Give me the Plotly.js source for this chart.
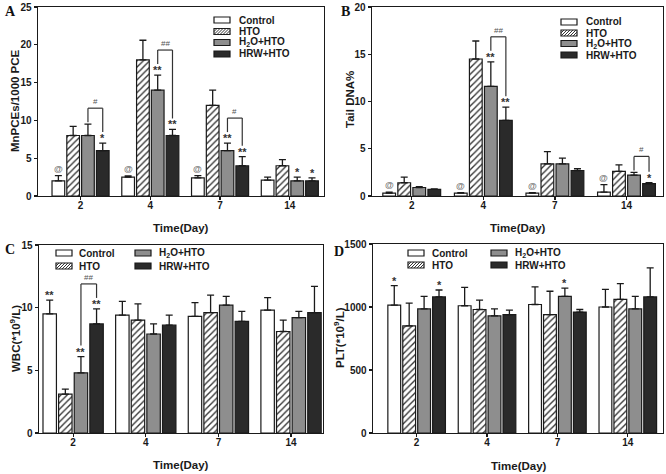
<!DOCTYPE html>
<html><head><meta charset="utf-8">
<script src="https://cdn.plot.ly/plotly-3.0.1.min.js"></script>
<style>html,body{margin:0;padding:0;background:#fff}</style>
</head><body><div id="chart" style="width:666px;height:474px"></div>
<script>
// ---------- data ----------
const days = ['2', '4', '7', '14'];
const seriesNames = ['Control', 'HTO', 'H<sub>2</sub>O+HTO', 'HRW+HTO'];

// Panel A: MnPCEs/1000 PCE
const aControl = [2.0, 2.5, 2.4, 2.1];
const aControlErr = [0.7, 0.15, 0.3, 0.4];
const aHTO = [8.0, 18.0, 12.0, 4.0];
const aHTOErr = [1.2, 2.6, 2.0, 0.8];
const aH2O = [8.0, 14.0, 6.0, 2.0];
const aH2OErr = [1.5, 2.0, 1.0, 0.5];
const aHRW = [6.0, 8.0, 4.0, 2.0];
const aHRWErr = [1.0, 0.8, 1.2, 0.4];
const aMarkControl = ['@', '@', '@', ''];
const aMarkHTO = ['', '', '', ''];
const aMarkH2O = ['', '**', '**', '*'];
const aMarkHRW = ['*', '**', '**', '*'];
const aBracketDays = [0, 1, 2];
const aBracketLabels = ['#', '##', '#'];

// Panel B: Tail DNA%
const bControl = [0.3, 0.3, 0.3, 0.4];
const bControlErr = [0.1, 0.05, 0.05, 0.8];
const bHTO = [1.4, 14.5, 3.4, 2.6];
const bHTOErr = [0.6, 1.9, 1.3, 0.7];
const bH2O = [0.9, 11.6, 3.4, 2.2];
const bH2OErr = [0.1, 2.6, 0.6, 0.3];
const bHRW = [0.7, 8.0, 2.7, 1.3];
const bHRWErr = [0.05, 1.4, 0.2, 0.1];
const bMarkControl = ['@', '@', '@', '@'];
const bMarkHTO = ['', '', '', ''];
const bMarkH2O = ['', '**', '', ''];
const bMarkHRW = ['', '**', '', '*'];
const bBracketDays = [1, 3];
const bBracketLabels = ['##', '#'];

// Panel C: WBC (*10^9/L)
const cControl = [9.5, 9.4, 9.3, 9.8];
const cControlErr = [1.1, 1.1, 1.1, 1.0];
const cHTO = [3.1, 9.0, 9.6, 8.1];
const cHTOErr = [0.4, 1.3, 1.4, 0.9];
const cH2O = [4.8, 7.9, 10.2, 9.2];
const cH2OErr = [1.3, 0.8, 0.7, 0.5];
const cHRW = [8.7, 8.6, 8.9, 9.6];
const cHRWErr = [1.2, 0.8, 0.8, 2.1];
const cMarkControl = ['**', '', '', ''];
const cMarkHTO = ['', '', '', ''];
const cMarkH2O = ['**', '', '', ''];
const cMarkHRW = ['**', '', '', ''];
const cBracketDays = [0];
const cBracketLabels = ['##'];

// Panel D: PLT (*10^9/L)
const dControl = [1015, 1010, 1020, 1000];
const dControlErr = [155, 145, 140, 140];
const dHTO = [850, 980, 940, 1060];
const dHTOErr = [180, 75, 185, 125];
const dH2O = [985, 930, 1085, 985];
const dH2OErr = [100, 55, 65, 100];
const dHRW = [1080, 940, 960, 1080];
const dHRWErr = [55, 35, 20, 230];
const dMarkControl = ['*', '', '', ''];
const dMarkHTO = ['', '', '', ''];
const dMarkH2O = ['', '', '*', ''];
const dMarkHRW = ['*', '', '', ''];
const dBracketDays = [];
const dBracketLabels = [];

// ---------- styling / layout ----------
const W = 666, H = 474;
const FONT = 'Liberation Sans';
const SERIF = 'Liberation Serif';
const fills = ['#ffffff', '#ffffff', '#8e8e8e', '#2a2a2a'];
const edge = '#1a1a1a';
const px2x = p => p / W;
const px2y = p => 1 - p / H;

const panels = [
  {xa: 'x', ya: 'y', vals: [aControl, aHTO, aH2O, aHRW], errs: [aControlErr, aHTOErr, aH2OErr, aHRWErr],
   marks: [aMarkControl, aMarkHTO, aMarkH2O, aMarkHRW], bDays: aBracketDays, bLabels: aBracketLabels,
   pitch: 0.212, w: 0.182, box: [38, 324, 7, 196], xr: [-0.61, 3.49], yr: [0, 25], dt: 5},
  {xa: 'x2', ya: 'y2', vals: [bControl, bHTO, bH2O, bHRW], errs: [bControlErr, bHTOErr, bH2OErr, bHRWErr],
   marks: [bMarkControl, bMarkHTO, bMarkH2O, bMarkHRW], bDays: bBracketDays, bLabels: bBracketLabels,
   pitch: 0.21, w: 0.178, box: [372, 663, 7, 196], xr: [-0.555, 3.51], yr: [0, 20], dt: 5},
  {xa: 'x3', ya: 'y3', vals: [cControl, cHTO, cH2O, cHRW], errs: [cControlErr, cHTOErr, cH2OErr, cHRWErr],
   marks: [cMarkControl, cMarkHTO, cMarkH2O, cMarkHRW], bDays: cBracketDays, bLabels: cBracketLabels,
   pitch: 0.215, w: 0.185, box: [39, 323, 245, 433], xr: [-0.47, 3.44], yr: [0, 15], dt: 5},
  {xa: 'x4', ya: 'y4', vals: [dControl, dHTO, dH2O, dHRW], errs: [dControlErr, dHTOErr, dH2OErr, dHRWErr],
   marks: [dMarkControl, dMarkHTO, dMarkH2O, dMarkHRW], bDays: dBracketDays, bLabels: dBracketLabels,
   pitch: 0.212, w: 0.182, box: [373, 663, 244, 433], xr: [-0.62, 3.5], yr: [0, 1500], dt: 500}
];

const traces = [], shapes = [], annotations = [];
const layout = {
  width: W, height: H, margin: {l: 0, r: 0, t: 0, b: 0},
  paper_bgcolor: '#fff', plot_bgcolor: '#fff', barmode: 'overlay', showlegend: false,
  font: {family: FONT, color: '#1a1a1a'}
};

panels.forEach((p, pi) => {
  const sfx = pi === 0 ? '' : String(pi + 1);
  const [l, r, t, b] = p.box;
  layout['xaxis' + sfx] = {
    domain: [px2x(l), px2x(r)], anchor: p.ya, type: 'category',
    categoryorder: 'array', categoryarray: days, range: p.xr,
    showline: true, mirror: true, linecolor: edge, linewidth: 1.4,
    ticks: 'outside', ticklen: 3, tickwidth: 1.2, tickcolor: edge, ticklabelstandoff: -3,
    showgrid: false, zeroline: false,
    tickfont: {family: FONT, size: 10, weight: 'bold', color: '#1a1a1a'}
  };
  layout['yaxis' + sfx] = {
    domain: [px2y(b), px2y(t)], anchor: p.xa, range: p.yr, dtick: p.dt, tick0: 0,
    showline: true, mirror: true, linecolor: edge, linewidth: 1.4,
    ticks: 'outside', ticklen: 3, tickwidth: 1.2, tickcolor: edge,
    showgrid: false, zeroline: false,
    tickfont: {family: FONT, size: 10, weight: 'bold', color: '#1a1a1a'}
  };
  const u = (p.yr[1] - p.yr[0]) / (b - t);   // data units per pixel
  const centre = (i, k) => i + (k - 1.5) * p.pitch;
  const tops = k => p.vals[k].map((v, i) => v + p.errs[k][i]);

  for (let k = 0; k < 4; k++) {
    const marker = {color: fills[k], line: {color: edge, width: 1.2}};
    if (k === 1) marker.pattern = {shape: '/', size: 4.5, solidity: 0.3, fgcolor: '#333', bgcolor: '#fff', fillmode: 'replace'};
    traces.push({
      type: 'bar', x: days, y: p.vals[k], xaxis: p.xa, yaxis: p.ya, name: seriesNames[k],
      width: p.w, offset: (k - 2) * p.pitch + (p.pitch - p.w) / 2,
      marker: marker, hoverinfo: 'skip',
      error_y: {type: 'data', symmetric: false, array: p.errs[k], arrayminus: p.errs[k].map(() => 0),
                color: edge, thickness: 1.3, width: 3.5}
    });
    const tp = tops(k);
    p.marks[k].forEach((m, i) => {
      if (!m) return;
      annotations.push({
        xref: p.xa, yref: p.ya, x: centre(i, k), y: tp[i], yanchor: 'bottom', xanchor: 'center',
        text: m, showarrow: false, yshift: m === '@' ? 0 : -3,
        font: {family: FONT, size: m === '@' ? 9 : 11, weight: 'bold', color: m === '@' ? '#777777' : '#333333'}
      });
    });
  }
  const topH2O = tops(2), topHRW = tops(3);
  p.bDays.forEach((i, j) => {
    const xl = centre(i, 2), xr = centre(i, 3);
    const yl = topH2O[i] + (p.marks[2][i] ? 11 : 2) * u;
    const yr = topHRW[i] + (p.marks[3][i] ? 11 : 2) * u;
    const yt = Math.max(yl, yr) + 14 * u;
    const ln = {color: '#333', width: 1.2};
    shapes.push({type: 'line', xref: p.xa, yref: p.ya, x0: xl, x1: xl, y0: yl, y1: yt, line: ln});
    shapes.push({type: 'line', xref: p.xa, yref: p.ya, x0: xl, x1: xr, y0: yt, y1: yt, line: ln});
    shapes.push({type: 'line', xref: p.xa, yref: p.ya, x0: xr, x1: xr, y0: yr, y1: yt, line: ln});
    annotations.push({xref: p.xa, yref: p.ya, x: (xl + xr) / 2, y: yt, yanchor: 'bottom', showarrow: false,
      text: p.bLabels[j], yshift: 0, font: {family: FONT, size: 8, color: '#555555'}});
  });
});

// ---------- titles ----------
function txt(x, y, text, size, opts) {
  annotations.push(Object.assign({xref: 'paper', yref: 'paper', x: px2x(x), y: px2y(y), text: text,
    showarrow: false, xanchor: 'center', yanchor: 'middle',
    font: {family: FONT, size: size, weight: 'bold', color: '#1a1a1a'}}, opts || {}));
}
txt(15, 101, 'MnPCEs/1000 PCE', 11.5, {textangle: -90});
txt(350, 100, 'Tail DNA%', 11.5, {textangle: -90});
txt(15, 339, 'WBC(*10<sup>9</sup>/L)', 11.5, {textangle: -90});
txt(339, 338, 'PLT(*10<sup>9</sup>/L)', 11.5, {textangle: -90});
txt(181, 228, 'Time(Day)', 11.5);
txt(518, 228, 'Time(Day)', 11.5);
txt(181, 465, 'Time(Day)', 11.5);
txt(519, 466, 'Time(Day)', 11.5);
const letterFont = {family: SERIF, size: 14, weight: 'bold', color: '#111111'};
txt(10, 11, 'A', 14, {font: letterFont});
txt(346, 11, 'B', 14, {font: letterFont});
txt(10, 249, 'C', 14, {font: letterFont});
txt(339, 251, 'D', 14, {font: letterFont});

// ---------- legends (drawn manually) ----------
function legendEntry(x0, yc, textX, k) {
  const sw = 16, sh = 6;
  const y0 = yc - sh / 2, y1 = yc + sh / 2;
  shapes.push({type: 'rect', xref: 'paper', yref: 'paper', layer: 'above',
    x0: px2x(x0), x1: px2x(x0 + sw), y0: px2y(y1), y1: px2y(y0),
    fillcolor: fills[k], line: {color: edge, width: 1.2}});
  if (k === 1) {
    for (let t = -sh; t < sw; t += 3) {
      const smin = Math.max(0, -t), smax = Math.min(sh, sw - t);
      if (smax - smin > 0.5) shapes.push({type: 'line', xref: 'paper', yref: 'paper', layer: 'above',
        x0: px2x(x0 + t + smin), y0: px2y(y1 - smin), x1: px2x(x0 + t + smax), y1: px2y(y1 - smax),
        line: {color: '#333', width: 1}});
    }
  }
  txt(textX, yc, seriesNames[k], 10, {xanchor: 'left'});
}
[20, 31.5, 42.5, 54].forEach((y, k) => legendEntry(214, y, 237, k));
[22, 33, 43.5, 55].forEach((y, k) => legendEntry(561, y, 584, k));
legendEntry(56, 253, 77, 0); legendEntry(56, 266, 77, 1);
legendEntry(135, 253, 157, 2); legendEntry(135, 266, 157, 3);
legendEntry(408, 253, 430, 0); legendEntry(408, 265, 430, 1);
legendEntry(491, 253, 513, 2); legendEntry(491, 265, 513, 3);

layout.shapes = shapes;
layout.annotations = annotations;
Plotly.newPlot('chart', traces, layout, {staticPlot: true, displayModeBar: false});
</script>
</body></html>
